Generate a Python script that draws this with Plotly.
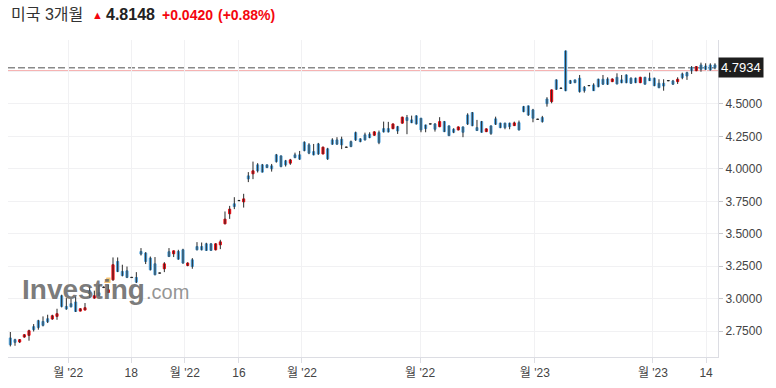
import plotly.graph_objects as go

# ---------------- data ----------------
open_ = [2.698, 2.685, 2.667, 2.705, 2.718, 2.785, 2.831, 2.825, 2.846, 2.844,
         2.864, 3.023, 2.941, 2.962, 2.975, 2.905, 2.913, 3.062, 3.005, 3.046,
         3.089, 3.048, 3.146, 3.287, 3.210, 3.215, 3.165, 3.164, 3.364, 3.352,
         3.313, 3.269, 3.199, 3.231, 3.362, 3.346, 3.364, 3.377, 3.256, 3.300,
         3.402, 3.402, 3.423, 3.423, 3.377, 3.415, 3.577, 3.654, 3.731, 3.757,
         3.746, 3.946, 3.962, 4.031, 4.031, 4.031, 4.023, 4.108, 4.100, 4.062,
         4.044, 4.108, 4.108, 4.205, 4.185, 4.133, 4.192, 4.115, 4.154, 4.223,
         4.223, 4.228, 4.168, 4.210, 4.279, 4.231, 4.262, 4.267, 4.259, 4.279,
         4.310, 4.310, 4.310, 4.325, 4.352, 4.395, 4.377, 4.408, 4.390, 4.338,
         4.347, 4.346, 4.325, 4.364, 4.331, 4.305, 4.300, 4.323, 4.415, 4.433,
         4.318, 4.364, 4.287, 4.331, 4.385, 4.352, 4.352, 4.352, 4.333, 4.356,
         4.479, 4.485, 4.454, 4.383, 4.395, 4.538, 4.518, 4.685, 4.622, 4.908,
         4.679, 4.685, 4.698, 4.628, 4.642, 4.646, 4.690, 4.690, 4.692, 4.672,
         4.705, 4.685, 4.723, 4.698, 4.698, 4.664, 4.705, 4.698, 4.698, 4.659,
         4.659, 4.680, 4.677, 4.672, 4.731, 4.741, 4.779, 4.756, 4.800, 4.792,
         4.800, 4.800]
high = [2.744, 2.692, 2.690, 2.727, 2.762, 2.805, 2.838, 2.864, 2.877, 2.877,
        2.923, 3.031, 3.005, 2.998, 3.018, 2.927, 2.967, 3.095, 3.062, 3.108,
        3.095, 3.108, 3.318, 3.318, 3.262, 3.248, 3.168, 3.205, 3.390, 3.359,
        3.325, 3.321, 3.200, 3.282, 3.390, 3.372, 3.377, 3.385, 3.281, 3.313,
        3.436, 3.433, 3.431, 3.428, 3.428, 3.454, 3.672, 3.715, 3.782, 3.759,
        3.808, 3.975, 4.056, 4.044, 4.038, 4.035, 4.038, 4.115, 4.104, 4.069,
        4.077, 4.125, 4.138, 4.212, 4.198, 4.192, 4.200, 4.172, 4.162, 4.236,
        4.244, 4.248, 4.170, 4.218, 4.287, 4.236, 4.279, 4.282, 4.290, 4.295,
        4.364, 4.362, 4.350, 4.331, 4.402, 4.415, 4.410, 4.413, 4.393, 4.341,
        4.349, 4.352, 4.398, 4.369, 4.335, 4.313, 4.327, 4.327, 4.428, 4.438,
        4.377, 4.369, 4.312, 4.335, 4.402, 4.356, 4.356, 4.356, 4.364, 4.372,
        4.485, 4.488, 4.462, 4.385, 4.408, 4.552, 4.612, 4.690, 4.624, 4.912,
        4.685, 4.688, 4.723, 4.638, 4.644, 4.659, 4.695, 4.723, 4.705, 4.697,
        4.736, 4.723, 4.728, 4.705, 4.703, 4.709, 4.709, 4.741, 4.703, 4.690,
        4.690, 4.682, 4.685, 4.705, 4.741, 4.748, 4.792, 4.792, 4.818, 4.813,
        4.813, 4.813]
low = [2.633, 2.638, 2.659, 2.700, 2.677, 2.748, 2.762, 2.787, 2.813, 2.838,
       2.838, 2.933, 2.915, 2.933, 2.898, 2.903, 2.911, 3.005, 3.000, 3.018,
       3.082, 3.044, 3.138, 3.205, 3.172, 3.159, 3.160, 3.121, 3.333, 3.267,
       3.218, 3.180, 3.195, 3.205, 3.321, 3.321, 3.300, 3.269, 3.250, 3.231,
       3.372, 3.372, 3.369, 3.369, 3.372, 3.382, 3.573, 3.615, 3.690, 3.752,
       3.702, 3.898, 3.921, 3.972, 3.972, 4.006, 3.979, 4.048, 4.012, 4.018,
       4.031, 4.082, 4.069, 4.135, 4.113, 4.104, 4.108, 4.112, 4.069, 4.185,
       4.185, 4.152, 4.164, 4.167, 4.215, 4.205, 4.218, 4.236, 4.255, 4.190,
       4.280, 4.280, 4.305, 4.269, 4.348, 4.267, 4.352, 4.341, 4.282, 4.282,
       4.343, 4.287, 4.321, 4.283, 4.252, 4.275, 4.296, 4.244, 4.338, 4.328,
       4.292, 4.278, 4.283, 4.262, 4.338, 4.313, 4.305, 4.305, 4.330, 4.295,
       4.436, 4.408, 4.359, 4.379, 4.356, 4.479, 4.505, 4.608, 4.618, 4.598,
       4.654, 4.660, 4.587, 4.587, 4.638, 4.600, 4.628, 4.646, 4.646, 4.668,
       4.650, 4.659, 4.659, 4.654, 4.660, 4.660, 4.648, 4.677, 4.636, 4.621,
       4.602, 4.676, 4.646, 4.654, 4.690, 4.685, 4.731, 4.752, 4.748, 4.762,
       4.756, 4.767]
close = [2.646, 2.664, 2.685, 2.723, 2.754, 2.762, 2.779, 2.795, 2.823, 2.869,
         2.885, 2.941, 2.921, 2.938, 2.902, 2.923, 2.931, 3.041, 3.023, 3.025,
         3.087, 3.069, 3.262, 3.210, 3.179, 3.164, 3.163, 3.128, 3.344, 3.287,
         3.223, 3.185, 3.197, 3.269, 3.325, 3.369, 3.305, 3.275, 3.275, 3.248,
         3.377, 3.377, 3.372, 3.372, 3.423, 3.438, 3.613, 3.690, 3.710, 3.755,
         3.769, 3.923, 3.985, 3.985, 3.975, 4.010, 4.000, 4.056, 4.018, 4.031,
         4.069, 4.087, 4.075, 4.141, 4.121, 4.108, 4.115, 4.167, 4.077, 4.190,
         4.190, 4.185, 4.166, 4.172, 4.223, 4.210, 4.223, 4.241, 4.285, 4.202,
         4.285, 4.285, 4.346, 4.292, 4.398, 4.372, 4.356, 4.346, 4.300, 4.310,
         4.345, 4.305, 4.364, 4.287, 4.256, 4.282, 4.323, 4.282, 4.346, 4.333,
         4.295, 4.282, 4.308, 4.272, 4.344, 4.318, 4.318, 4.325, 4.354, 4.300,
         4.441, 4.415, 4.390, 4.381, 4.364, 4.502, 4.608, 4.613, 4.620, 4.602,
         4.659, 4.664, 4.595, 4.602, 4.640, 4.602, 4.633, 4.652, 4.652, 4.692,
         4.654, 4.664, 4.664, 4.659, 4.664, 4.705, 4.652, 4.679, 4.641, 4.625,
         4.638, 4.678, 4.652, 4.690, 4.702, 4.715, 4.756, 4.787, 4.767, 4.767,
         4.762, 4.779]

tick_pos = [12.4, 25.9, 37.4, 49.0, 62.5, 87.8, 112.4, 137.7, 149.1]
tick_text = ["월 '22", "18", "월 '22", "16", "월 '22", "월 '22", "월 '23", "월 '23", "14"]
y_ticks = [2.75, 3.0, 3.25, 3.5, 3.75, 4.0, 4.25, 4.5, 4.75]
y_hidden = [4.75]          # covered by the price label in the reference

title_name = "미국 3개월"
price_text = "4.8148"
change_text = "+0.0420"
pct_text = "(+0.88%)"
last_label = "4.7934"
ref_level = 4.756

# ---------------- styling ----------------
W, H = 776, 388
PL, PR, PT, PB = 8, 718, 40, 357          # plot area in pixels
BLUE = "#4fa3de"
RED = "#f4060e"
WICK = "#2a2a2a"
FONT = "Liberation Sans, Arial, Noto Sans CJK KR, sans-serif"


def px(xp):
    return (xp - PL) / (PR - PL)


def py(yp):
    return (PB - yp) / (PB - PT)


n = len(open_)
xs = list(range(n))

wx, wy = [], []
for i in xs:
    wx += [i, i, None]
    wy += [low[i], high[i], None]

base, height, cols = [], [], []
for o, c in zip(open_, close):
    base.append(min(o, c))
    height.append(max(abs(c - o), 0.0008))
    if abs(c - o) <= 0.003:
        cols.append(WICK)
    elif c > o:
        cols.append(RED)
    else:
        cols.append(BLUE)

fig = go.Figure()
fig.add_trace(go.Scatter(x=wx, y=wy, mode="lines",
                         line=dict(color=WICK, width=1), hoverinfo="skip"))
fig.add_trace(go.Bar(x=xs, y=height, base=base, width=0.45,
                     marker=dict(color=cols, line=dict(color=cols, width=1))))

shapes = [
    dict(type="line", xref="paper", x0=0, x1=1, yref="y", y0=ref_level, y1=ref_level,
         line=dict(color="#f6b3b3", width=1.5), layer="below"),
    dict(type="line", xref="paper", x0=0, x1=1, yref="y", y0=close[-1], y1=close[-1],
         line=dict(color="#8a8a8a", width=1.6, dash="7px,3px"), layer="below"),
    dict(type="path", xref="paper", yref="paper",
         path="M %f,%f L %f,%f L %f,%f L %f,%f Z" % (
             px(104), py(283), px(106.5), py(277.5), px(110.5), py(277.5), px(110.5), py(283)),
         fillcolor="rgba(245,176,65,0.75)", line=dict(width=0), layer="above"),
]

ann = [
    dict(text=title_name, x=px(9), y=py(14), font=dict(size=16, color="#333333")),
    dict(text="▲", x=px(89.5), y=py(14.5), font=dict(size=11, color=RED)),
    dict(text="<b>%s</b>" % price_text, x=px(104), y=py(14), font=dict(size=16, color="#222222")),
    dict(text="<b>%s</b>" % change_text, x=px(160), y=py(14.5), font=dict(size=14, color=RED)),
    dict(text="<b>%s</b>" % pct_text, x=px(215.5), y=py(14.5), font=dict(size=14, color=RED)),
    dict(text="<b>Investing</b>", x=px(20), y=py(289), font=dict(size=28, color="rgba(100,100,100,0.85)")),
    dict(text=".com", x=px(144), y=py(292), font=dict(size=20, color="rgba(120,120,120,0.8)")),
]
annotations = []
for a in ann:
    a.update(xref="paper", yref="paper", xanchor="left", yanchor="middle", showarrow=False)
    a["font"]["family"] = FONT
    annotations.append(a)
annotations.append(dict(text=last_label, xref="paper", x=1.0, yref="y", y=close[-1],
                        xanchor="left", yanchor="middle", showarrow=False,
                        bgcolor="#1e1e1e", borderpad=2,
                        font=dict(family=FONT, size=13, color="#ffffff")))

fig.update_layout(
    width=W, height=H,
    margin=dict(l=PL, r=W - PR, t=PT, b=H - PB, pad=0),
    paper_bgcolor="white", plot_bgcolor="white",
    showlegend=False,
    font=dict(family=FONT, size=12, color="#444444"),
    shapes=shapes, annotations=annotations,
    xaxis=dict(range=[-0.5, 151.65], tickmode="array", tickvals=tick_pos, ticktext=tick_text,
               showgrid=True, gridcolor="#f1f1f3", gridwidth=1,
               showline=True, linecolor="#dcdde3", linewidth=1,
               ticks="outside", ticklen=5, tickcolor="#dcdde3",
               tickfont=dict(size=12, color="#444444"), zeroline=False, fixedrange=True),
    yaxis=dict(side="right", range=[2.5515, 4.9923], tickmode="array", tickvals=y_ticks,
               ticktext=["" if v in y_hidden else "%.4f" % v for v in y_ticks],
               showgrid=True, gridcolor="#f1f1f3", gridwidth=1,
               showline=True, linecolor="#dcdde3", linewidth=1,
               ticks="outside", ticklen=4, tickcolor="#c8c8cc",
               tickfont=dict(size=12, color="#444444"), zeroline=False, fixedrange=True),
)

fig.write_html("out.html", config={"displayModeBar": False},
               post_script="document.body.style.margin='0';")
